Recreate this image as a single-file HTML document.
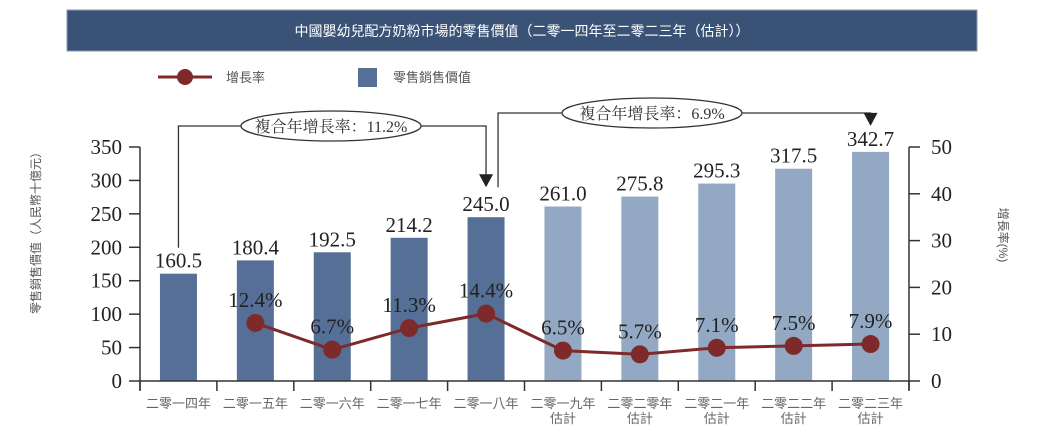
<!DOCTYPE html>
<html><head><meta charset="utf-8"><style>
body{margin:0;background:#fff;width:1044px;height:438px;overflow:hidden}
svg{display:block}
.cjk{font-family:"Liberation Sans","Noto Sans CJK TC",sans-serif}
.num{font-family:"Liberation Serif","Noto Serif CJK SC",serif}
</style></head><body>
<svg id="chart" width="1044" height="438">
<rect x="67" y="10" width="910" height="41" fill="#3a5276" stroke="#8a9ab0" stroke-width="1"/>
<text x="522" y="36" text-anchor="middle" fill="#fff" font-size="14" class="cjk">中國嬰幼兒配方奶粉市場的零售價值（二零一四年至二零二三年（估計））</text>
<g>
<line x1="158" y1="77" x2="212" y2="77" stroke="#7f2a2a" stroke-width="3"/>
<circle cx="185" cy="77" r="8" fill="#7f2a2a"/>
<text x="226" y="82" font-size="13" fill="#555" class="cjk">增長率</text>
<rect x="358" y="68" width="19" height="19" fill="#566f96"/>
<text x="393" y="82" font-size="13" fill="#555" class="cjk">零售銷售價值</text>
</g>
<text transform="translate(40,230) rotate(-90)" text-anchor="middle" font-size="12" fill="#555" class="cjk">零售銷售價值（人民幣十億元）</text>
<text transform="translate(999,235) rotate(90)" text-anchor="middle" font-size="12" fill="#555" class="cjk">增長率(%)</text>
<g id="plot"></g>
</svg>
<script>
const categories=["二零一四年","二零一五年","二零一六年","二零一七年","二零一八年","二零一九年|估計","二零二零年|估計","二零二一年|估計","二零二二年|估計","二零二三年|估計"];
const salesValues=[160.5,180.4,192.5,214.2,245.0,261.0,275.8,295.3,317.5,342.7];
const growthValues=[null,12.4,6.7,11.3,14.4,6.5,5.7,7.1,7.5,7.9];
const forecastFlags=[0,0,0,0,0,1,1,1,1,1];
const leftTicks=[0,50,100,150,200,250,300,350];
const rightTicks=[0,10,20,30,40,50];
const cagrLabels=["複合年增長率：11.2%","複合年增長率：6.9%"];

const NS="http://www.w3.org/2000/svg";
const g=document.getElementById('plot');
const X0=140,X1=909,Y0=381,YT=147;
const xC=i=>X0+(X1-X0)/categories.length*(i+0.5);
const yL=v=>Y0-(Y0-YT)*v/350;
const yR=v=>Y0-(Y0-YT)*v/50;
function mk(t,a,txt){const e=document.createElementNS(NS,t);for(const k in a)e.setAttribute(k,a[k]);if(txt!=null)e.textContent=txt;g.appendChild(e);return e;}

// axes
let e;
e=mk('line',{x1:X0,y1:YT,x2:X0,y2:Y0+9,stroke:'#333','stroke-width':1.5});


e=mk('line',{x1:X1,y1:YT,x2:X1,y2:Y0+9,stroke:'#333','stroke-width':1.5});


leftTicks.forEach(v=>{
 e=mk('line',{x1:X0-11,y1:yL(v),x2:X0,y2:yL(v),stroke:'#333','stroke-width':1.5});
 
 
 e=mk('text',{x:X0-18,y:yL(v)+7,'text-anchor':'end','font-size':21,fill:'#222',class:'num'},v);
 
 
});
rightTicks.forEach(v=>{
 e=mk('line',{x1:X1,y1:yR(v),x2:X1+11,y2:yR(v),stroke:'#333','stroke-width':1.5});
 
 
 e=mk('text',{x:X1+22,y:yR(v)+7,'font-size':21,fill:'#222',class:'num'},v);
 
 
});
// bars
const bw=37;
salesValues.forEach((v,i)=>{
 e=mk('rect',{x:xC(i)-bw/2,y:yL(v),width:bw,height:Y0-yL(v),fill:forecastFlags[i]?'#93a8c2':'#566f96'});
 
 
 e=mk('text',{x:xC(i),y:yL(v)-6,'text-anchor':'middle','font-size':21,fill:'#222',class:'num'},v.toFixed(1));
 
 
});
// x axis
e=mk('line',{x1:X0,y1:Y0,x2:X1,y2:Y0,stroke:'#333','stroke-width':1.5});


for(let i=0;i<=categories.length;i++){
 const x=X0+(X1-X0)/categories.length*i;
 e=mk('line',{x1:x,y1:Y0,x2:x,y2:Y0+10,stroke:'#333','stroke-width':1.5});
 
 
}
categories.forEach((c,i)=>{
 c.split('|').forEach((s,j)=>{
  e=mk('text',{x:xC(i),y:408+j*15,'text-anchor':'middle','font-size':13,fill:'#666',class:'cjk'},s);
  
  
 });
});
// line
const pts=growthValues.map((v,i)=>v==null?null:[xC(i),yR(v)]).filter(p=>p);
e=mk('polyline',{points:pts.map(p=>p.join(',')).join(' '),fill:'none',stroke:'#7f2a2a','stroke-width':3});


growthValues.forEach((v,i)=>{
 if(v==null)return;
 e=mk('circle',{cx:xC(i),cy:yR(v),r:9,fill:'#7f2a2a'});
 
 
 e=mk('text',{x:xC(i),y:yR(v)-16,'text-anchor':'middle','font-size':21,fill:'#222',class:'num'},v.toFixed(1)+'%');
 
 
});
// CAGR brackets
function bracket(xa,ya,xb,yb,yTop,label,cx,ew,name){
 e=mk('polyline',{points:`${xa},${ya} ${xa},${yTop} ${xb},${yTop} ${xb},${yb-12}`,fill:'none',stroke:'#333','stroke-width':1.3});
 
 
 e=mk('polygon',{points:`${xb-7},${yb-13} ${xb+7},${yb-13} ${xb},${yb}`,fill:'#222'});
 
 
 e=mk('ellipse',{cx:cx,cy:yTop,rx:ew/2,ry:15,fill:'#fff',stroke:'#333','stroke-width':1.3});
 
 
 e=mk('text',{x:cx,y:yTop+6,'text-anchor':'middle','font-size':16,fill:'#333',class:'num'},label);
 
 
}
bracket(xC(0),yL(salesValues[0])-26,xC(4),yL(salesValues[4])-30,126,cagrLabels[0],331,180,'cagr-2014-2018');
bracket(xC(4)+12,yL(salesValues[4])-30,xC(9),yL(salesValues[9])-26,113,cagrLabels[1],652,180,'cagr-2018-2023');
</script>
</body></html>
